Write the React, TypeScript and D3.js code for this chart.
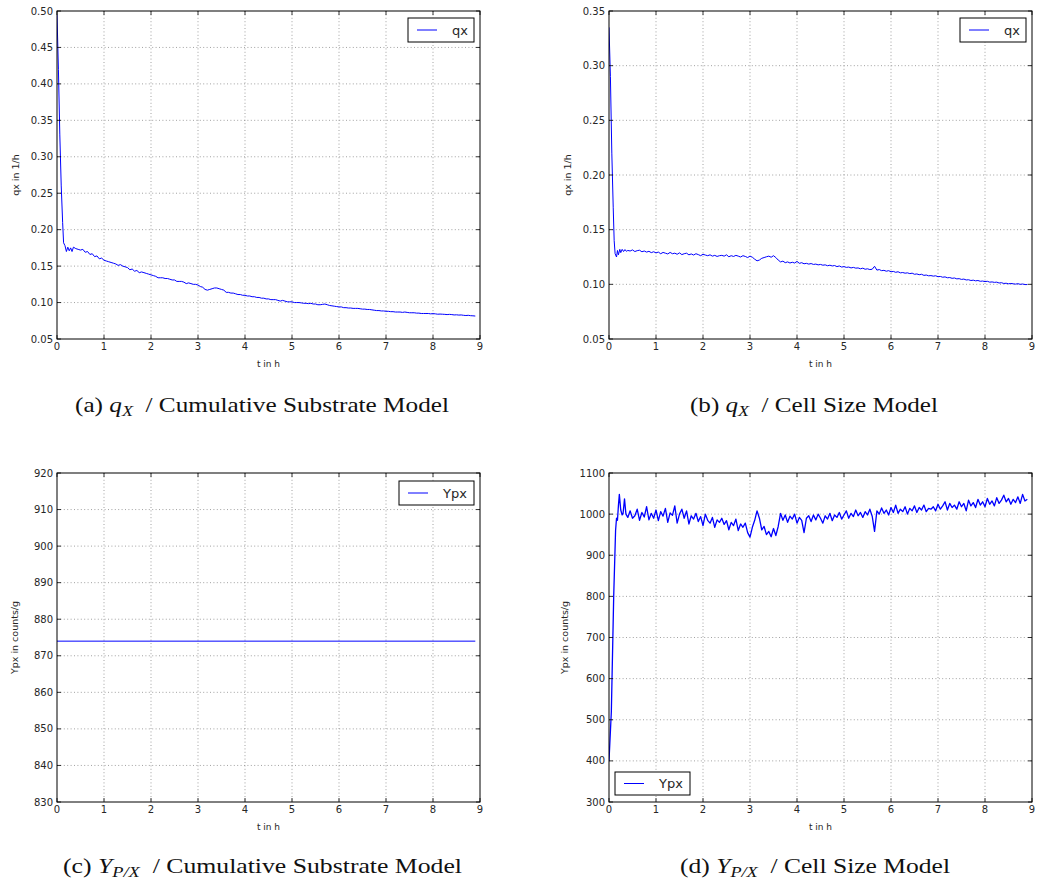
import React from "react";
import * as d3 from "d3";

// ---- shared axis setup ----
const X_TICKS = [0, 1, 2, 3, 4, 5, 6, 7, 8, 9];
const X_DOMAIN: [number, number] = [0, 9];

const QX_CUM_TICKS = [0.05, 0.1, 0.15, 0.2, 0.25, 0.3, 0.35, 0.4, 0.45, 0.5];
const QX_CELL_TICKS = [0.05, 0.1, 0.15, 0.2, 0.25, 0.3, 0.35];
const YPX_CUM_TICKS = [830, 840, 850, 860, 870, 880, 890, 900, 910, 920];
const YPX_CELL_TICKS = [300, 400, 500, 600, 700, 800, 900, 1000, 1100];

// samples after the start-up transient are spaced evenly
const BODY_START = 0.4;
const BODY_STEP = 0.05;

// ---- (a) qx, cumulative substrate model ----
const qxCumHead: [number, number][] = [
  [0, 0.495], [0.03, 0.42], [0.06, 0.33], [0.09, 0.26], [0.12, 0.21],
  [0.14, 0.182], [0.17, 0.178], [0.2, 0.17], [0.23, 0.176], [0.26, 0.171],
  [0.29, 0.175], [0.32, 0.17], [0.35, 0.176],
];
const qxCumBody = [
  0.174, 0.173, 0.172, 0.173, 0.169, 0.17, 0.166, 0.167, 0.163, 0.164,
  0.16, 0.161, 0.158, 0.157, 0.156, 0.155, 0.154, 0.153, 0.151, 0.152,
  0.15, 0.149, 0.148, 0.145, 0.146, 0.143, 0.144, 0.141, 0.142, 0.141,
  0.14, 0.139, 0.138, 0.137, 0.136, 0.134, 0.134, 0.134, 0.133, 0.133,
  0.132, 0.131, 0.131, 0.129, 0.129, 0.129, 0.128, 0.126, 0.127, 0.126,
  0.125, 0.125, 0.124, 0.122, 0.121, 0.118, 0.117, 0.118, 0.119, 0.12,
  0.12, 0.119, 0.118, 0.117, 0.114, 0.114, 0.113, 0.113, 0.112, 0.111,
  0.111, 0.11, 0.11, 0.109, 0.109, 0.108, 0.108, 0.107, 0.107, 0.106,
  0.106, 0.105, 0.105, 0.104, 0.104, 0.104, 0.103, 0.102, 0.103, 0.102,
  0.101, 0.101, 0.101, 0.1, 0.1, 0.1, 0.0995, 0.099, 0.099, 0.0985,
  0.099, 0.098, 0.098, 0.097, 0.097, 0.0975, 0.098, 0.097, 0.096, 0.0955,
  0.095, 0.0945, 0.094, 0.094, 0.093, 0.093, 0.0925, 0.0925, 0.092, 0.092,
  0.092, 0.0915, 0.091, 0.091, 0.0905, 0.0905, 0.09, 0.0895, 0.089, 0.089,
  0.0885, 0.0885, 0.088, 0.088, 0.0875, 0.0875, 0.087, 0.087, 0.087, 0.0865,
  0.087, 0.0865, 0.086, 0.086, 0.086, 0.0855, 0.0855, 0.085, 0.085, 0.085,
  0.085, 0.0845, 0.0848, 0.0845, 0.084, 0.0842, 0.084, 0.0838, 0.0835, 0.0838,
  0.0835, 0.083, 0.0832, 0.0828, 0.083, 0.0825, 0.0822, 0.0825, 0.082, 0.0818,
  0.0815,
];

// ---- (b) qx, cell size model ----
const qxCellHead: [number, number][] = [
  [0, 0.335], [0.03, 0.29], [0.06, 0.22], [0.09, 0.17], [0.11, 0.14],
  [0.13, 0.128], [0.16, 0.125], [0.18, 0.131], [0.2, 0.127], [0.23, 0.132],
  [0.25, 0.129], [0.28, 0.132], [0.31, 0.13], [0.34, 0.1318], [0.37, 0.1302],
];
const qxCellBody = [
  0.131, 0.1305, 0.1315, 0.13, 0.1308, 0.1312, 0.1298, 0.1305, 0.1295, 0.1302,
  0.129, 0.1298, 0.1288, 0.1295, 0.128, 0.1292, 0.1285, 0.1278, 0.1292, 0.128,
  0.1285, 0.1275, 0.1288, 0.1272, 0.128, 0.1285, 0.127, 0.1278, 0.1268, 0.128,
  0.1272, 0.1262, 0.1275, 0.1268, 0.1262, 0.127, 0.1258, 0.1265, 0.1255, 0.1262,
  0.1265, 0.1258, 0.127, 0.1252, 0.1262, 0.1255, 0.1265, 0.1258, 0.125, 0.1262,
  0.1255, 0.1245, 0.1258, 0.1248, 0.123, 0.1215, 0.1222, 0.1238, 0.1245, 0.1252,
  0.1258, 0.1248, 0.1262, 0.1245, 0.1222, 0.1205, 0.1212, 0.1198, 0.1205, 0.1195,
  0.1202, 0.1195, 0.121, 0.1192, 0.1198, 0.1188, 0.1192, 0.1185, 0.119, 0.1182,
  0.1185, 0.1178, 0.1182, 0.1175, 0.1178, 0.117, 0.1175, 0.1168, 0.1172, 0.1162,
  0.1168, 0.1158, 0.1162, 0.1155, 0.1158, 0.115, 0.1155, 0.1148, 0.115, 0.1142,
  0.1148, 0.1138, 0.1142, 0.1135, 0.1138, 0.1165, 0.113, 0.1135, 0.1125, 0.1128,
  0.112, 0.1125, 0.1115, 0.1118, 0.111, 0.1115, 0.1105, 0.1108, 0.1102, 0.1105,
  0.1098, 0.1102, 0.1092, 0.1095, 0.1088, 0.1092, 0.1082, 0.1085, 0.1078, 0.108,
  0.1075, 0.1078, 0.107, 0.1072, 0.1065, 0.1068, 0.106, 0.1062, 0.1055, 0.1058,
  0.105, 0.1052, 0.1045, 0.1048, 0.104, 0.1042, 0.1035, 0.1038, 0.1032, 0.1035,
  0.1028, 0.103, 0.1025, 0.1028, 0.102, 0.1022, 0.1018, 0.102, 0.1012, 0.1015,
  0.1008, 0.101, 0.1005, 0.1008, 0.1005, 0.1002, 0.1006, 0.1, 0.1003, 0.0998,
  0.0998,
];

// ---- (c) Ypx, cumulative substrate model (constant yield) ----
const ypxCum: [number, number][] = [
  [0, 874], [8.9, 874],
];

// ---- (d) Ypx, cell size model ----
const ypxCellHead: [number, number][] = [
  [0, 400], [0.05, 520], [0.1, 800], [0.14, 960], [0.16, 990],
  [0.18, 985], [0.2, 1020], [0.22, 1048], [0.25, 1010], [0.28, 998],
  [0.3, 1002], [0.33, 1037], [0.36, 1000],
];
const ypxCellBody = [
  992, 1008, 990, 996, 1012, 985, 1004, 993, 1018, 986,
  1002, 990, 1010, 984, 1006, 995, 1014, 980, 1003, 997,
  1020, 978, 1000, 1012, 990, 1008, 976, 996, 988, 1002,
  982, 994, 972, 1000, 985, 978, 992, 968, 986, 980,
  990, 975, 984, 962, 980, 972, 988, 960, 976, 968,
  978, 955, 944, 968, 985, 1008, 990, 962, 970, 950,
  958, 945, 965, 948, 970, 1002, 985, 998, 980, 995,
  988, 1000, 978, 992, 985, 955, 990, 996, 982, 998,
  986, 1000, 990, 978, 996, 988, 1002, 984, 998, 992,
  1004, 988, 998, 1008, 990, 1002, 994, 1010, 996, 1004,
  992, 1006, 998, 1012, 995, 958, 1008, 1000, 1015, 1002,
  1010, 998, 1016, 1004, 1022, 1002, 1012, 1006, 1018, 1000,
  1014, 1008, 1020, 1004, 1016, 1010, 1022, 1006, 1014, 1012,
  1018, 1008, 1024, 1012, 1020, 1030, 1010, 1026, 1016, 1022,
  1012, 1030, 1018, 1026, 1008, 1034, 1020, 1028, 1016, 1036,
  1022, 1030, 1018, 1038, 1024, 1032, 1020, 1040, 1026, 1034,
  1046, 1030, 1038, 1024, 1036, 1028, 1042, 1026, 1048, 1032,
  1036,
];

function joinSeries(head: [number, number][], body: number[]): [number, number][] {
  return head.concat(body.map((v, i) => [BODY_START + i * BODY_STEP, v] as [number, number]));
}

const AXIS_FONT = "DejaVu Sans, Verdana, sans-serif";
const TEXT_COLOR = "#262626";
const LINE_COLOR = "#0000ff";

type Box = { l: number; t: number; r: number; b: number };
type LegendBox = { x: number; y: number; w: number; h: number };

function Panel(props: {
  id: string;
  box: Box;
  yDomain: [number, number];
  yTicks: number[];
  yFormat: (v: number) => string;
  yLabel: string;
  yLabelX: number;
  data: [number, number][];
  legendLabel: string;
  legend: LegendBox;
  strokeWidth: number;
}) {
  const { id, box, yDomain, yTicks, yFormat, yLabel, yLabelX, data, legendLabel, legend, strokeWidth } = props;
  const x = d3.scaleLinear().domain(X_DOMAIN).range([box.l, box.r]);
  const y = d3.scaleLinear().domain(yDomain).range([box.b, box.t]);
  const path = d3
    .line<[number, number]>()
    .x((d) => x(d[0]))
    .y((d) => y(d[1]))(data) as string;
  const tickLen = 4;
  const midX = (box.l + box.r) / 2;
  const midY = (box.t + box.b) / 2;

  return (
    <g>
      <defs>
        <clipPath id={`clip-${id}`}>
          <rect x={box.l} y={box.t} width={box.r - box.l} height={box.b - box.t} />
        </clipPath>
      </defs>
      <rect x={box.l} y={box.t} width={box.r - box.l} height={box.b - box.t} fill="#fff" />
      {/* dotted grid */}
      {X_TICKS.slice(1, -1).map((t) => (
        <line key={`gx${t}`} x1={x(t)} x2={x(t)} y1={box.t} y2={box.b}
          stroke="#8a8a8a" strokeWidth={0.8} strokeDasharray="1,2.4" />
      ))}
      {yTicks.slice(1, -1).map((t) => (
        <line key={`gy${t}`} x1={box.l} x2={box.r} y1={y(t)} y2={y(t)}
          stroke="#8a8a8a" strokeWidth={0.8} strokeDasharray="1,2.4" />
      ))}
      {/* data line */}
      <path d={path} fill="none" stroke={LINE_COLOR} strokeWidth={strokeWidth}
        strokeLinejoin="round" clipPath={`url(#clip-${id})`} />
      {/* inward ticks on all four sides */}
      {X_TICKS.map((t) => (
        <g key={`tx${t}`} stroke="#000" strokeWidth={0.8}>
          <line x1={x(t)} x2={x(t)} y1={box.b} y2={box.b - tickLen} />
          <line x1={x(t)} x2={x(t)} y1={box.t} y2={box.t + tickLen} />
        </g>
      ))}
      {yTicks.map((t) => (
        <g key={`ty${t}`} stroke="#000" strokeWidth={0.8}>
          <line x1={box.l} x2={box.l + tickLen} y1={y(t)} y2={y(t)} />
          <line x1={box.r} x2={box.r - tickLen} y1={y(t)} y2={y(t)} />
        </g>
      ))}
      <rect x={box.l} y={box.t} width={box.r - box.l} height={box.b - box.t}
        fill="none" stroke="#000" strokeWidth={1} />
      {/* tick labels */}
      {X_TICKS.map((t) => (
        <text key={`lx${t}`} x={x(t)} y={box.b + 11} textAnchor="middle"
          fontFamily={AXIS_FONT} fontSize={10} fill={TEXT_COLOR}>
          {t}
        </text>
      ))}
      {yTicks.map((t) => (
        <text key={`ly${t}`} x={box.l - 4} y={y(t) + 3.6} textAnchor="end"
          fontFamily={AXIS_FONT} fontSize={10} fill={TEXT_COLOR}>
          {yFormat(t)}
        </text>
      ))}
      {/* axis titles */}
      <text x={midX} y={box.b + 27.5} textAnchor="middle" fontFamily={AXIS_FONT}
        fontSize={9} fill={TEXT_COLOR}>
        t in h
      </text>
      <text transform={`translate(${yLabelX},${midY}) rotate(-90)`} textAnchor="middle"
        fontFamily={AXIS_FONT} fontSize={9.5} fill={TEXT_COLOR}>
        {yLabel}
      </text>
      {/* legend */}
      <rect x={legend.x} y={legend.y} width={legend.w} height={legend.h}
        fill="#fff" stroke="#000" strokeWidth={1} />
      <line x1={legend.x + 9} x2={legend.x + 29} y1={legend.y + legend.h / 2}
        y2={legend.y + legend.h / 2} stroke={LINE_COLOR} strokeWidth={1} />
      <text x={legend.x + 44} y={legend.y + legend.h / 2 + 4.5}
        fontFamily={AXIS_FONT} fontSize={13} fill={TEXT_COLOR}>
        {legendLabel}
      </text>
    </g>
  );
}

function Caption(props: { x: number; y: number; width: number; tag: string; sym: string; sub: string; rest: string }) {
  const { x, y, width, tag, sym, sub, rest } = props;
  return (
    <text x={x} y={y} fontFamily="Liberation Serif, Times New Roman, serif" fontSize={21}
      fill="#111" textLength={width} lengthAdjust="spacingAndGlyphs" style={{ whiteSpace: "pre" }}>
      {`(${tag}) `}
      <tspan fontStyle="italic">{sym}</tspan>
      <tspan fontStyle="italic" fontSize={15} dy={4}>{sub}</tspan>
      <tspan dy={-4}>{`  / ${rest}`}</tspan>
    </text>
  );
}

const fmt2 = d3.format(".2f");
const fmt0 = d3.format("d");

export default function App() {
  const boxA: Box = { l: 57, t: 11, r: 480, b: 339 };
  const boxB: Box = { l: 609, t: 11, r: 1032, b: 339 };
  const boxC: Box = { l: 57, t: 473, r: 480, b: 802 };
  const boxD: Box = { l: 609, t: 473, r: 1032, b: 802 };

  return (
    <>
      <style>{`body{margin:0;background:#fff}`}</style>
      <svg width={1040} height={886} viewBox="0 0 1040 886" style={{ display: "block" }}>
        <rect width={1040} height={886} fill="#fff" />
        <Panel id="a" box={boxA} yDomain={[0.05, 0.5]} yTicks={QX_CUM_TICKS} yFormat={fmt2}
          yLabel="qx in 1/h" yLabelX={18.5} data={joinSeries(qxCumHead, qxCumBody)}
          legendLabel="qx" legend={{ x: 408, y: 18, w: 66, h: 24 }} strokeWidth={1} />
        <Panel id="b" box={boxB} yDomain={[0.05, 0.35]} yTicks={QX_CELL_TICKS} yFormat={fmt2}
          yLabel="qx in 1/h" yLabelX={570.5} data={joinSeries(qxCellHead, qxCellBody)}
          legendLabel="qx" legend={{ x: 960, y: 18, w: 66, h: 24 }} strokeWidth={1} />
        <Panel id="c" box={boxC} yDomain={[830, 920]} yTicks={YPX_CUM_TICKS} yFormat={fmt0}
          yLabel="Ypx in counts/g" yLabelX={17.5} data={ypxCum}
          legendLabel="Ypx" legend={{ x: 399, y: 481, w: 75, h: 24 }} strokeWidth={1} />
        <Panel id="d" box={boxD} yDomain={[300, 1100]} yTicks={YPX_CELL_TICKS} yFormat={fmt0}
          yLabel="Ypx in counts/g" yLabelX={567.5} data={joinSeries(ypxCellHead, ypxCellBody)}
          legendLabel="Ypx" legend={{ x: 615, y: 772, w: 75, h: 23 }} strokeWidth={1.3} />

        <Caption x={75} y={412} width={374} tag="a" sym="q" sub="X" rest="Cumulative Substrate Model" />
        <Caption x={690} y={412} width={248} tag="b" sym="q" sub="X" rest="Cell Size Model" />
        <Caption x={63} y={873} width={399} tag="c" sym="Y" sub="P/X" rest="Cumulative Substrate Model" />
        <Caption x={680} y={873} width={270} tag="d" sym="Y" sub="P/X" rest="Cell Size Model" />
      </svg>
    </>
  );
}
